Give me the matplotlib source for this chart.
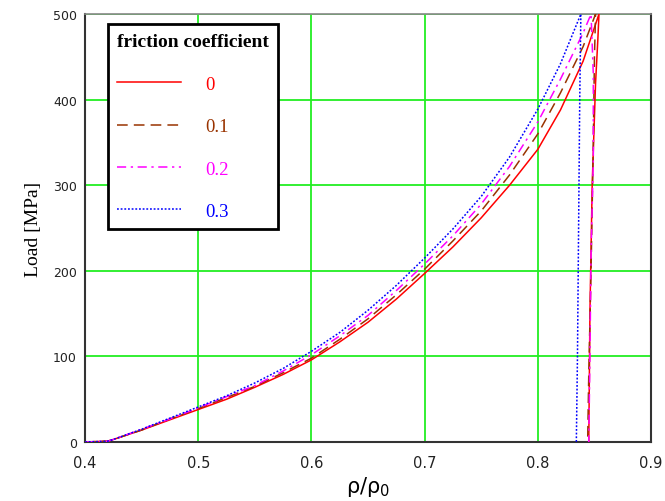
import matplotlib.pyplot as plt
import numpy as np

plt.rcParams['mathtext.fontset'] = 'stix'
plt.rcParams['mathtext.default'] = 'regular'

labels = ["0", "0.1", "0.2", "0.3"]
colors = ["#ff0000", "#993300", "#ff00ff", "#0000ff"]
styles = ["-", (0, (7, 4)), (0, (6, 3, 1.5, 3)), (0, (1.2, 1.2))]

# shared density grid of the loading branch
rho_load = [0.40, 0.42, 0.425, 0.45, 0.475, 0.50, 0.525, 0.55, 0.575, 0.60, 0.625,
            0.65, 0.675, 0.70, 0.725, 0.75, 0.775, 0.80, 0.82]

# loading branch (MPa) then tail to 500 MPa and unloading back to zero
load_0 = [0, 1, 3, 14, 26, 38, 50, 64, 79, 96, 117, 140, 167, 197, 228, 262, 300, 342, 388]
tail_rho_0 = [0.84, 0.854, 0.853, 0.851, 0.848, 0.846, 0.845]
tail_load_0 = [445, 500, 470, 420, 300, 150, 0]

load_1 = [0, 1, 3, 14, 27, 39, 52, 65, 81, 98, 120, 144, 172, 202, 235, 270, 312, 360, 408]
tail_rho_1 = [0.84, 0.851, 0.850, 0.849, 0.847, 0.845, 0.844]
tail_load_1 = [462, 500, 450, 350, 200, 80, 0]

load_2 = [0, 1, 3, 15, 27, 40, 53, 66, 83, 102, 124, 148, 177, 208, 241, 278, 322, 374, 424]
tail_rho_2 = [0.84, 0.847, 0.849, 0.849, 0.847, 0.846, 0.845]
tail_load_2 = [478, 500, 430, 330, 220, 100, 0]

load_3 = [0, 1, 3, 15, 28, 41, 54, 69, 86, 106, 128, 154, 183, 215, 249, 287, 333, 389, 442]
tail_rho_3 = [0.838, 0.837, 0.836, 0.835, 0.834]
tail_load_3 = [500, 400, 250, 100, 0]

loads = [load_0, load_1, load_2, load_3]
tail_rhos = [tail_rho_0, tail_rho_1, tail_rho_2, tail_rho_3]
tail_loads = [tail_load_0, tail_load_1, tail_load_2, tail_load_3]

fig = plt.figure(figsize=(6.65, 5.02), dpi=100)
ax = fig.add_axes([0.128, 0.1175, 0.851, 0.8525])

for l, tr, tl, c, s, lab in zip(loads, tail_rhos, tail_loads, colors, styles, labels):
    ax.plot(rho_load + tr, l + tl, color=c, linestyle=s, linewidth=1.1, label=lab, zorder=3)

ax.set_xlim(0.4, 0.9)
ax.set_ylim(0, 500)
ax.set_xticks(np.arange(0.4, 0.91, 0.1))
ax.set_xticklabels(["0.4", "0.5", "0.6", "0.7", "0.8", "0.9"], fontsize=10.5)
ax.set_yticks(np.arange(0, 501, 100))
ax.set_yticklabels(["0", "100", "200", "300", "400", "500"], fontsize=9)
ax.tick_params(length=0, pad=6, colors="#222222")
ax.tick_params(axis="x", pad=9)
ax.grid(True, color="#22ee22", linewidth=1.3)
ax.set_axisbelow(True)

for side in ["left", "bottom", "right"]:
    ax.spines[side].set_color("#333333")
    ax.spines[side].set_linewidth(1.5)
ax.spines["top"].set_color("#888888")
ax.spines["top"].set_linewidth(1.2)

ax.set_ylabel("Load [MPa]", family="Liberation Serif", fontsize=14, labelpad=8)
ax.set_xlabel(r"$\rho/\rho_0$", fontsize=15, labelpad=3)

leg = ax.legend(loc="upper left", bbox_to_anchor=(0.04, 0.977), title="friction coefficient",
                prop={"family": "Liberation Serif", "size": 13.5}, labelcolor="linecolor",
                fancybox=False, framealpha=1, edgecolor="black", handlelength=3.4,
                handletextpad=1.3, labelspacing=1.35, borderpad=0.5, borderaxespad=0)
leg.get_title().set_fontfamily("Liberation Serif")
leg.get_title().set_fontsize(14)
leg.get_title().set_fontweight("bold")
leg.get_frame().set_linewidth(2)
leg._legend_box.align = "left"

plt.savefig("out.png", dpi=100)
